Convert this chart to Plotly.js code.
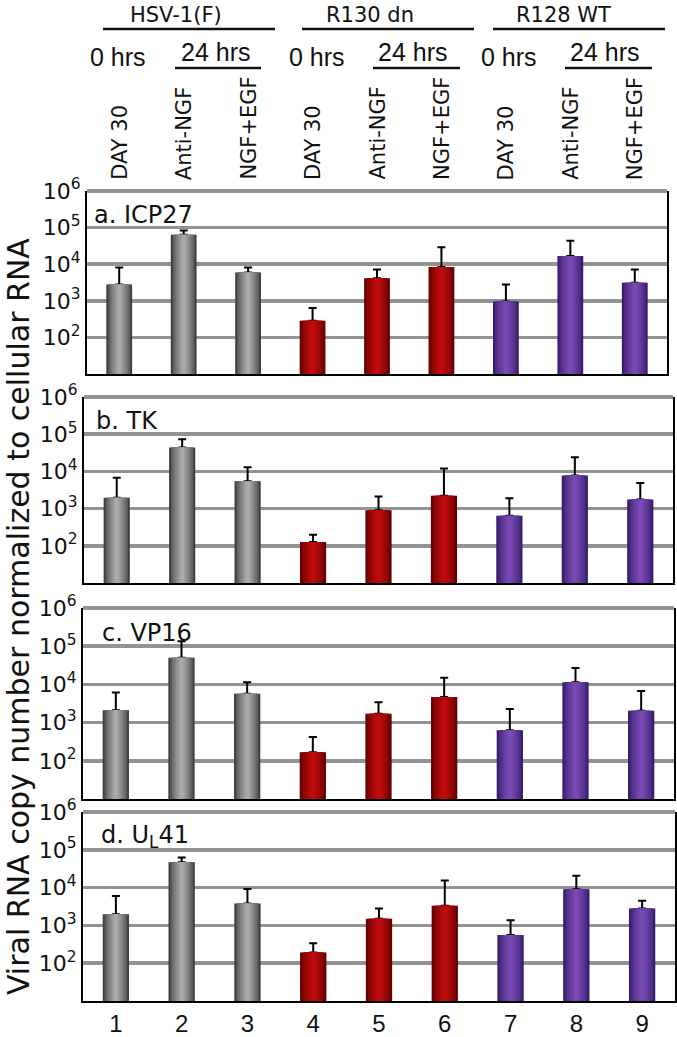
<!DOCTYPE html>
<html><head><meta charset="utf-8">
<script src="https://cdn.plot.ly/plotly-3.0.1.min.js"></script>
<style>html,body{margin:0;padding:0;background:#fff}#chart{width:677px;height:1037px}</style>
</head><body><div id="chart"></div>
<script>
// ---------- data ----------
const sampleNumbers = [1, 2, 3, 4, 5, 6, 7, 8, 9];
const sampleTickLabels = ['1', '2', '3', '4', '5', '6', '7', '8', '9'];
const treatments = ['DAY 30', 'Anti-NGF', 'NGF+EGF', 'DAY 30', 'Anti-NGF', 'NGF+EGF', 'DAY 30', 'Anti-NGF', 'NGF+EGF'];
const virusGroups = ['HSV-1(F)', 'R130 dn', 'R128 WT'];
const virusOfSample = [0, 0, 0, 1, 1, 1, 2, 2, 2];
const timeLabels = ['0 hrs', '24 hrs'];
const geneLabels = ['a. ICP27', 'b. TK', 'c. VP16', 'd. U<sub>L</sub>41'];

const icp27Mean  = [2800, 64000, 5900, 285, 4100, 8400, 960, 16700, 3100];
const icp27Upper = [8100, 83000, 8100, 640, 7200, 29000, 2800, 44000, 7200];
const tkMean     = [1950, 44000, 5400, 126, 900, 2200, 640, 7800, 1770];
const tkUpper    = [6700, 73000, 13000, 197, 2100, 12000, 1900, 24000, 4900];
const vp16Mean   = [2100, 50000, 5700, 167, 1700, 4650, 630, 11300, 2050];
const vp16Upper  = [6100, 135000, 11300, 420, 3400, 15000, 2270, 27000, 6700];
const ul41Mean   = [1960, 46500, 3800, 193, 1500, 3300, 560, 9000, 2800];
const ul41Upper  = [6000, 63000, 9200, 336, 2800, 15400, 1360, 20600, 4500];

const yTickVals = [1e2, 1e3, 1e4, 1e5, 1e6];
const yTickText = ['10<sup>2</sup>', '10<sup>3</sup>', '10<sup>4</sup>', '10<sup>5</sup>', '10<sup>6</sup>'];
const yTitle = 'Viral RNA copy number normalized to cellular RNA';

// ---------- style ----------
const W = 677, H = 1037;
const panelsPx = [
  {l: 87, r: 667, t: 191, b: 374},
  {l: 84, r: 673, t: 397, b: 583},
  {l: 83, r: 674, t: 608, b: 799},
  {l: 83, r: 675, t: 812, b: 1001}
];
const labelShift = [5, 10, 17, 16];
const edgeColors = [[62, 62, 62], [100, 0, 0], [55, 28, 105]];
const centerColors = [[170, 170, 170], [190, 12, 12], [120, 75, 180]];
const fontMain = 'DejaVu Sans, Open Sans, sans-serif';
const fontNum = 'Liberation Sans, Arial, sans-serif';

const means = [icp27Mean, tkMean, vp16Mean, ul41Mean];
const uppers = [icp27Upper, tkUpper, vp16Upper, ul41Upper];

function lerp(a, b, t) { return 'rgb(' + a.map((v, i) => Math.round(v + (b[i] - v) * t)).join(',') + ')'; }

const NL = 7, BW = 0.4;
const traces = [];
means.forEach((m, p) => {
  const xa = p === 0 ? 'x' : 'x' + (p + 1);
  const ya = p === 0 ? 'y' : 'y' + (p + 1);
  for (let k = 0; k < NL; k++) {
    const t = k / (NL - 1);
    const tr = {
      type: 'bar', x: sampleNumbers, y: m, xaxis: xa, yaxis: ya,
      width: BW * (1 - k / NL),
      marker: {color: virusOfSample.map(g => lerp(edgeColors[g], centerColors[g], Math.pow(t, 0.7))), line: {width: 0}},
      hoverinfo: 'skip', showlegend: false
    };
    if (k === 0) {
      tr.error_y = {type: 'data', symmetric: false,
        array: uppers[p].map((u, i) => u - m[i]), arrayminus: m.map(() => 0),
        color: '#000', thickness: 2, width: 4};
    }
    traces.push(tr);
  }
});

const layout = {
  width: W, height: H, margin: {l: 0, r: 0, t: 0, b: 0},
  paper_bgcolor: '#fff', plot_bgcolor: '#fff',
  barmode: 'overlay', showlegend: false,
  font: {family: fontMain, color: '#000', size: 14},
  annotations: [], shapes: []
};

panelsPx.forEach((px, p) => {
  const sx = p === 0 ? '' : String(p + 1);
  layout['xaxis' + sx] = {
    domain: [px.l / W, px.r / W], anchor: 'y' + sx, range: [0.5, 9.5],
    showgrid: false, zeroline: false, showline: true, linecolor: '#000', linewidth: 2,
    ticks: '', tickvals: sampleNumbers, ticktext: sampleTickLabels,
    showticklabels: p === 3, tickfont: {family: fontNum, size: 24, color: '#111'},
    fixedrange: true
  };
  layout['yaxis' + sx] = {
    domain: [1 - px.b / H, 1 - px.t / H], anchor: 'x' + sx, type: 'log', range: [1, 6],
    tickvals: yTickVals, ticktext: yTickText, ticks: '',
    tickfont: {family: fontMain, size: 22, color: '#111'},
    showgrid: true, gridcolor: '#939393', gridwidth: 3.5, zeroline: false,
    showline: true, mirror: true, linecolor: '#000', linewidth: 2,
    fixedrange: true
  };
  layout.shapes.push({type: 'line', xref: 'x' + sx + ' domain', yref: 'y' + sx + ' domain',
    x0: 0, x1: 1, y0: 1, y1: 1, line: {color: '#939393', width: 4}});
  layout.annotations.push({xref: 'x' + sx + ' domain', yref: 'y' + sx + ' domain',
    x: 0, y: 0.87, xanchor: 'left', yanchor: 'middle', xshift: labelShift[p], showarrow: false,
    text: geneLabels[p], font: {family: fontMain, size: 24, color: '#111'}});
});

// y axis title
layout.annotations.push({xref: 'paper', yref: 'paper', x: 18 / W, y: 1 - 617 / H,
  xanchor: 'center', yanchor: 'middle', textangle: -90, showarrow: false,
  text: yTitle, font: {family: fontMain, size: 30, color: '#111'}});

// treatment labels (rotated) above columns, positioned on panel a's x axis
treatments.forEach((tx, i) => {
  layout.annotations.push({xref: 'x', yref: 'paper', x: sampleNumbers[i], y: 1 - 182 / H,
    xanchor: 'center', yanchor: 'bottom', textangle: -90, showarrow: false,
    text: tx, font: {family: fontMain, size: 21, color: '#111'}});
});

// header: virus groups and times (pixel placement)
const groupCenters = [176, 370, 563];
const groupLines = [[103, 275], [302, 474], [493, 665]];
const zeroCenters = [118, 317, 509];
const dayCenters = [215, 412, 604];
const dayLines = [[175, 261], [373, 460], [565, 652]];
virusGroups.forEach((g, j) => {
  layout.annotations.push({xref: 'paper', yref: 'paper', x: groupCenters[j] / W, y: 1 - 15 / H,
    xanchor: 'center', yanchor: 'middle', showarrow: false, text: g,
    font: {family: fontMain, size: 21, color: '#111'}});
  layout.shapes.push({type: 'line', xref: 'paper', yref: 'paper',
    x0: groupLines[j][0] / W, x1: groupLines[j][1] / W, y0: 1 - 29 / H, y1: 1 - 29 / H,
    line: {color: '#111', width: 2.5}});
  layout.annotations.push({xref: 'paper', yref: 'paper', x: zeroCenters[j] / W, y: 1 - 57 / H,
    xanchor: 'center', yanchor: 'middle', showarrow: false, text: timeLabels[0],
    font: {family: fontNum, size: 25, color: '#111'}});
  layout.annotations.push({xref: 'paper', yref: 'paper', x: dayCenters[j] / W, y: 1 - 52 / H,
    xanchor: 'center', yanchor: 'middle', showarrow: false, text: timeLabels[1],
    font: {family: fontNum, size: 25, color: '#111'}});
  layout.shapes.push({type: 'line', xref: 'paper', yref: 'paper',
    x0: dayLines[j][0] / W, x1: dayLines[j][1] / W, y0: 1 - 68 / H, y1: 1 - 68 / H,
    line: {color: '#111', width: 2.5}});
});

Plotly.newPlot('chart', traces, layout, {displayModeBar: false, staticPlot: true});
</script>
</body></html>
